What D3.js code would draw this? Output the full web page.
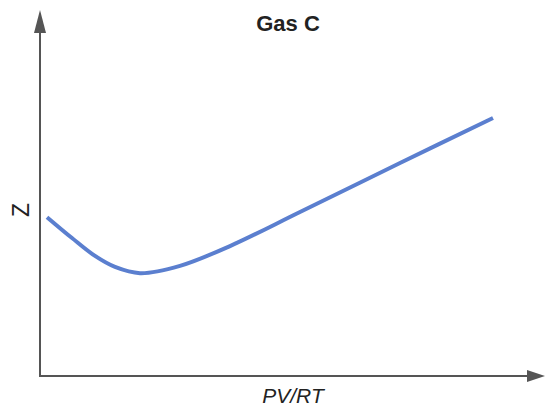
<!DOCTYPE html>
<html>
<head>
<meta charset="utf-8">
<script src="https://cdn.jsdelivr.net/npm/d3@7"></script>
<style>
  html, body { margin: 0; padding: 0; background: #fff; }
  svg { display: block; }
</style>
</head>
<body>
<svg id="chart" width="546" height="415"></svg>
<script>
// Data (abstract units)
const title = "Gas C";
const xLabel = "PV/RT";
const yLabel = "Z";
const curveX = [1.4, 6.4, 11, 15, 20, 28, 38, 52, 72, 90.6];
const curveZ = [43.4, 37.7, 32.8, 29.8, 28.1, 30.1, 35.5, 44.8, 58.2, 70.5];

const svg = d3.select("#chart");
const x = d3.scaleLinear().domain([0, 100]).range([40, 540]);
const y = d3.scaleLinear().domain([0, 100]).range([376, 10]);

const axisColor = "#555";

// Y axis line
svg.append("line")
  .attr("x1", x(0)).attr("x2", x(0))
  .attr("y1", y(0) + 1).attr("y2", 28)
  .attr("stroke", axisColor).attr("stroke-width", 2);
// Y arrowhead
svg.append("path")
  .attr("d", `M${x(0)},10 L${x(0) - 6},33 L${x(0) + 6},33 Z`)
  .attr("fill", axisColor);

// X axis line
svg.append("line")
  .attr("x1", x(0) - 1).attr("x2", 530)
  .attr("y1", y(0)).attr("y2", y(0))
  .attr("stroke", axisColor).attr("stroke-width", 2);
// X arrowhead
svg.append("path")
  .attr("d", `M545,${y(0)} L527,${y(0) - 6} L527,${y(0) + 6} Z`)
  .attr("fill", axisColor);

// Curve
const pts = curveX.map((v, i) => [v, curveZ[i]]);
const line = d3.line()
  .x(d => x(d[0]))
  .y(d => y(d[1]))
  .curve(d3.curveCatmullRom.alpha(0.5));
svg.append("path")
  .datum(pts)
  .attr("d", line)
  .attr("fill", "none")
  .attr("stroke", "#5b7fcf")
  .attr("stroke-width", 4)
  .attr("stroke-linecap", "butt");

// Title
svg.append("text")
  .attr("x", 288).attr("y", 31)
  .attr("text-anchor", "middle")
  .attr("font-family", "Liberation Sans, Arial, sans-serif")
  .attr("font-weight", "bold")
  .attr("font-size", 22)
  .attr("fill", "#222")
  .text(title);

// X label
svg.append("text")
  .attr("x", 293).attr("y", 403)
  .attr("text-anchor", "middle")
  .attr("font-family", "Liberation Sans, Arial, sans-serif")
  .attr("font-style", "italic")
  .attr("font-size", 21)
  .attr("fill", "#222")
  .text(xLabel);

// Y label (rotated)
svg.append("text")
  .attr("transform", "translate(29,210) rotate(-90)")
  .attr("text-anchor", "middle")
  .attr("font-family", "Liberation Sans, Arial, sans-serif")
  .attr("font-size", 23)
  .attr("fill", "#222")
  .text(yLabel);
</script>
</body>
</html>
